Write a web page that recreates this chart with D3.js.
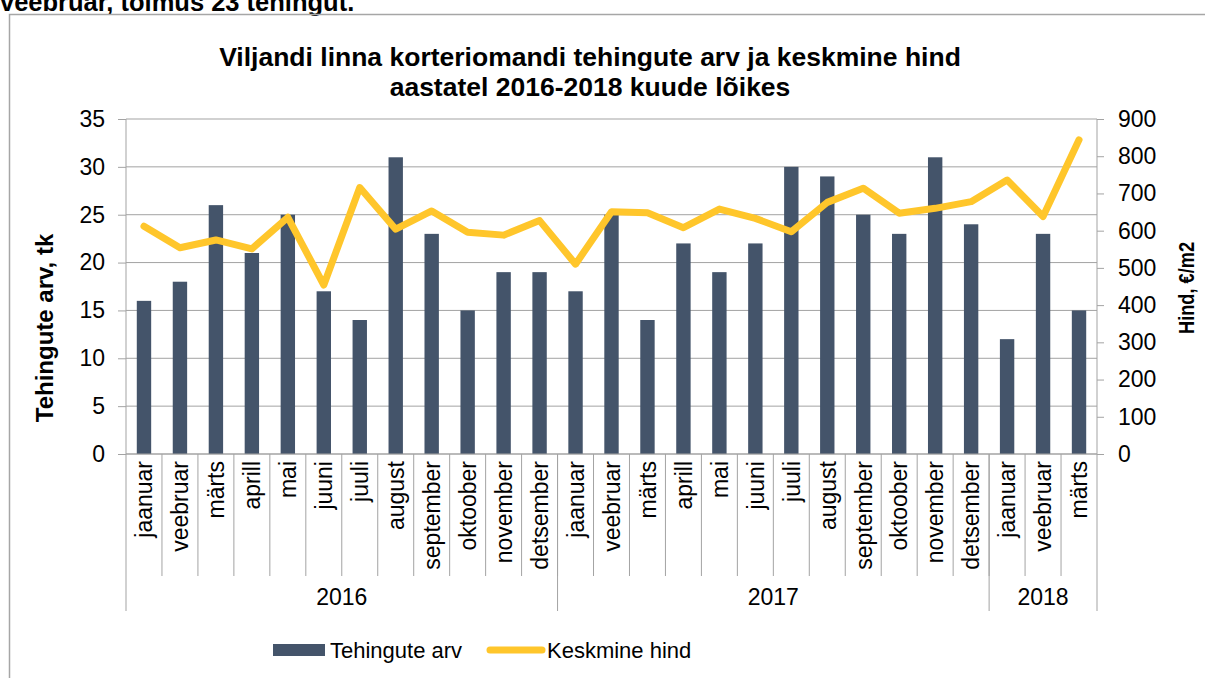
<!DOCTYPE html>
<html>
<head>
<meta charset="utf-8">
<script src="https://cdn.jsdelivr.net/npm/d3@7"></script>
<style>
  body { margin: 0; background: #fff; }
  svg { font-family: "Liberation Sans", Arial, sans-serif; display: block; }
</style>
</head>
<body>
<div id="container"></div>
<script>
// Data
const months = ["jaanuar", "veebruar", "märts", "aprill", "mai", "juuni", "juuli", "august",
    "september", "oktoober", "november", "detsember",
    "jaanuar", "veebruar", "märts", "aprill", "mai", "juuni", "juuli", "august",
    "september", "oktoober", "november", "detsember",
    "jaanuar", "veebruar", "märts"];
const years = ["2016", "2017", "2018"];
const yearMonths = [12, 12, 3];
const deals = [16, 18, 26, 21, 25, 17, 14, 31, 23, 15, 19, 19,
    17, 25, 14, 22, 19, 22, 30, 29, 25, 23, 31, 24,
    12, 23, 15];
const price = [612, 554, 575, 551, 636, 454, 716, 604, 653, 596, 588, 627,
    510, 651, 648, 608, 658, 633, 597, 676, 714, 647, 660, 678,
    736, 638, 844];
const leftTicks = [0, 5, 10, 15, 20, 25, 30, 35];
const rightTicks = [0, 100, 200, 300, 400, 500, 600, 700, 800, 900];

const W = 1205, H = 678;
const plot = {left: 126, right: 1097, top: 119, bottom: 454};
const barColor = "#44546A";
const lineColor = "#FFC62B";
const gridColor = "#A3A3A3";

const svg = d3.select("#container")
    .append("svg")
    .attr("width", W)
    .attr("height", H);

// text cut off at the top of the page (it is cut off in the original too)
svg.append("text")
    .attr("x", 0)
    .attr("y", 11)
    .style("font-size", "25.5px")
    .style("font-weight", "bold")
    .text("veebruar, toimus 23 tehingut.");

// chart frame
svg.append("rect")
    .attr("x", 9.5).attr("y", 14.5)
    .attr("width", W).attr("height", H)
    .attr("fill", "none")
    .attr("stroke", "#A6A6A6")
    .attr("stroke-width", 1.5);

// Scales
const x = d3.scaleBand()
    .domain(d3.range(months.length))
    .range([plot.left, plot.right])
    .paddingInner(0.6)
    .paddingOuter(0.3);
const yLeft = d3.scaleLinear().domain([0, 35]).range([plot.bottom, plot.top]);
const yRight = d3.scaleLinear().domain([0, 900]).range([plot.bottom, plot.top]);
const step = x.step();

// Title
svg.append("text")
    .attr("x", 590)
    .attr("text-anchor", "middle")
    .style("font-size", "26.5px")
    .style("font-weight", "bold")
    .selectAll("tspan")
    .data(["Viljandi linna korteriomandi tehingute arv ja keskmine hind",
        "aastatel 2016-2018 kuude lõikes"])
    .join("tspan")
    .attr("x", 590)
    .attr("y", (d, i) => 66 + i * 30)
    .text(d => d);

// Gridlines
svg.append("g")
    .selectAll("line")
    .data(leftTicks)
    .join("line")
    .attr("x1", plot.left).attr("x2", plot.right)
    .attr("y1", d => yLeft(d)).attr("y2", d => yLeft(d))
    .attr("stroke", gridColor)
    .attr("stroke-width", 1);

// Left axis
const gl = svg.append("g")
    .attr("transform", "translate(" + plot.left + ",0)")
    .call(d3.axisLeft(yLeft).tickValues(leftTicks).tickSize(8).tickPadding(13));
gl.select(".domain").remove();
gl.selectAll(".tick line").attr("stroke", gridColor);
gl.selectAll(".tick text")
    .style("font-size", "23px")
    .attr("fill", "#000")
    .attr("font-family", null);

// Right axis
const gr = svg.append("g")
    .attr("transform", "translate(" + plot.right + ",0)")
    .call(d3.axisRight(yRight).tickValues(rightTicks).tickSize(7).tickPadding(14));
gr.select(".domain").remove();
gr.selectAll(".tick line").attr("stroke", gridColor);
gr.selectAll(".tick text")
    .style("font-size", "23px")
    .attr("fill", "#000")
    .attr("font-family", null);

// Axis titles
svg.append("text")
    .attr("transform", "translate(53,328) rotate(-90)")
    .attr("text-anchor", "middle")
    .style("font-size", "24px")
    .style("font-weight", "bold")
    .text("Tehingute arv, tk");

// the right title is squeezed in the original
svg.append("text")
    .attr("transform", "translate(1194,288) rotate(-90)")
    .attr("text-anchor", "middle")
    .attr("textLength", 92)
    .attr("lengthAdjust", "spacingAndGlyphs")
    .style("font-size", "22px")
    .style("font-weight", "bold")
    .text("Hind, €/m2");

// Bars
svg.append("g")
    .selectAll("rect")
    .data(deals)
    .join("rect")
    .attr("x", (d, i) => x(i))
    .attr("y", d => yLeft(d))
    .attr("width", x.bandwidth())
    .attr("height", d => yLeft(0) - yLeft(d))
    .attr("fill", barColor);

// Line
const line = d3.line()
    .x((d, i) => x(i) + x.bandwidth() / 2)
    .y(d => yRight(d));

svg.append("path")
    .datum(price)
    .attr("d", line)
    .attr("fill", "none")
    .attr("stroke", lineColor)
    .attr("stroke-width", 7)
    .attr("stroke-linejoin", "round")
    .attr("stroke-linecap", "round");

// Category axis
const axisY = plot.bottom;
const monthSepBottom = 576;
const yearSepBottom = 611;

svg.append("line")
    .attr("x1", plot.left).attr("x2", plot.right)
    .attr("y1", axisY).attr("y2", axisY)
    .attr("stroke", gridColor);

// month separators
svg.append("g")
    .selectAll("line")
    .data(d3.range(1, months.length))
    .join("line")
    .attr("x1", i => plot.left + i * step).attr("x2", i => plot.left + i * step)
    .attr("y1", axisY).attr("y2", monthSepBottom)
    .attr("stroke", gridColor);

// year separators
const yearStart = [0];
yearMonths.forEach((n, i) => yearStart.push(yearStart[i] + n));

svg.append("g")
    .selectAll("line")
    .data(yearStart)
    .join("line")
    .attr("x1", i => plot.left + i * step).attr("x2", i => plot.left + i * step)
    .attr("y1", i => (i === 0 || i === months.length) ? plot.top : axisY)
    .attr("y2", yearSepBottom)
    .attr("stroke", gridColor);

// month labels
svg.append("g")
    .selectAll("text")
    .data(months)
    .join("text")
    .attr("transform", (d, i) => "translate(" + (x(i) + x.bandwidth() / 2) + "," + (axisY + 7) + ") rotate(-90)")
    .attr("text-anchor", "end")
    .attr("dy", "0.36em")
    .style("font-size", "23px")
    .text(d => d);

// year labels
svg.append("g")
    .selectAll("text")
    .data(years)
    .join("text")
    .attr("x", (d, i) => plot.left + (yearStart[i] + yearMonths[i] / 2) * step)
    .attr("y", 605)
    .attr("text-anchor", "middle")
    .style("font-size", "23px")
    .text(d => d);

// Legend
const legend = svg.append("g");
legend.append("rect")
    .attr("x", 273).attr("y", 644)
    .attr("width", 52).attr("height", 12)
    .attr("fill", barColor);
legend.append("text")
    .attr("x", 330).attr("y", 658)
    .style("font-size", "22px")
    .text("Tehingute arv");
legend.append("line")
    .attr("x1", 490).attr("x2", 542)
    .attr("y1", 650).attr("y2", 650)
    .attr("stroke", lineColor)
    .attr("stroke-width", 7)
    .attr("stroke-linecap", "round");
legend.append("text")
    .attr("x", 547).attr("y", 658)
    .style("font-size", "22px")
    .text("Keskmine hind");
</script>
</body>
</html>
